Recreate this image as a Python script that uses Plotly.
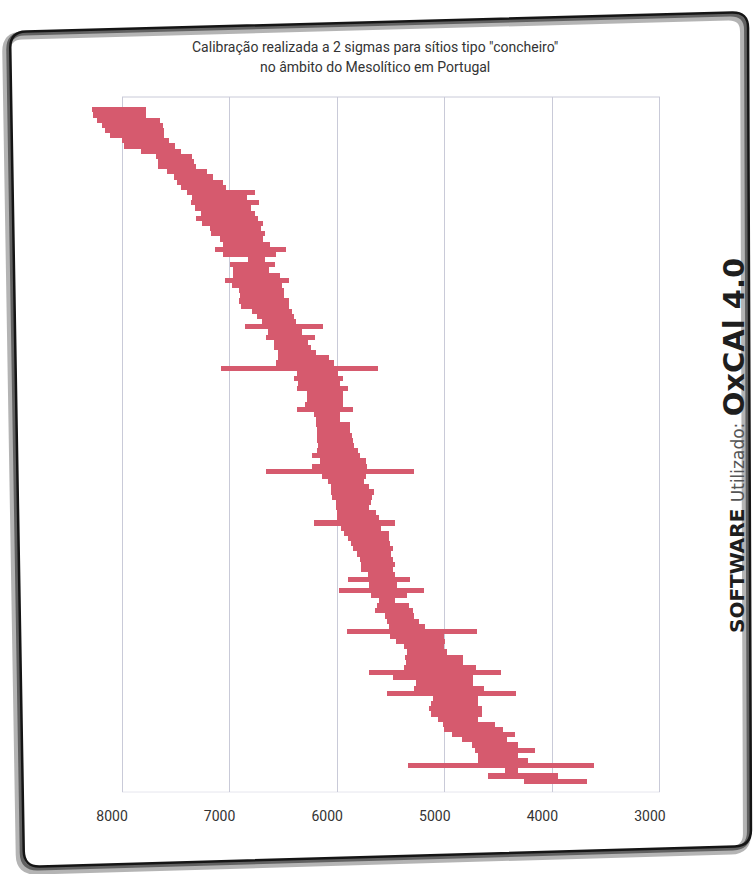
import plotly.graph_objects as go

# Calibrated 2-sigma ranges (cal BP) for each shell-midden date:
# older bound and younger bound, ordered from oldest to youngest
inicio = [8280, 8270, 8230, 8190, 8160, 8110, 8000, 7980, 7820, 7680,
          7670, 7670, 7580, 7520, 7490, 7450, 7400, 7350, 7360, 7320,
          7270, 7310, 7260, 7180, 7170, 7090, 7060, 7140, 7060, 6830,
          7000, 6970, 6970, 7040, 6980, 6910, 6900, 6910, 6890, 6790,
          6750, 6700, 6860, 6640, 6660, 6590, 6590, 6550, 6550, 6570,
          7080, 6370, 6400, 6360, 6370, 6280, 6280, 6300, 6370, 6220,
          6200, 6200, 6190, 6190, 6190, 6180, 6190, 6230, 6160, 6230,
          6660, 6140, 6090, 6060, 6060, 6050, 6010, 6010, 6000, 6000,
          6220, 5960, 5940, 5900, 5870, 5850, 5820, 5790, 5780, 5780,
          5710, 5900, 5700, 5980, 5690, 5610, 5630, 5650, 5560, 5540,
          5520, 5910, 5510, 5450, 5380, 5350, 5370, 5360, 5380, 5700,
          5480, 5270, 5290, 5540, 5110, 5130, 5150, 5130, 5060, 5020,
          5010, 4930, 4840, 4750, 4720, 4690, 4690, 5340, 4440, 4600, 4260]
fim = [7780, 7780, 7650, 7620, 7610, 7610, 7560, 7510, 7450, 7350,
       7330, 7310, 7210, 7150, 7060, 7030, 6760, 6840, 6730, 6800,
       6760, 6740, 6690, 6710, 6670, 6690, 6620, 6480, 6570, 6670,
       6580, 6630, 6530, 6450, 6510, 6490, 6490, 6450, 6450, 6420,
       6400, 6380, 6130, 6330, 6210, 6270, 6240, 6200, 6080, 6030,
       5620, 5990, 5950, 5970, 5900, 5950, 5950, 5950, 5850, 5970,
       5970, 5880, 5880, 5860, 5850, 5840, 5810, 5790, 5730, 5720,
       5290, 5730, 5750, 5700, 5660, 5680, 5690, 5700, 5640, 5610,
       5460, 5590, 5520, 5520, 5510, 5480, 5500, 5480, 5460, 5480,
       5460, 5320, 5440, 5190, 5350, 5460, 5330, 5300, 5290, 5240,
       5180, 4700, 5010, 5000, 5010, 4980, 4830, 4830, 4710, 4480,
       4740, 4740, 4640, 4340, 4690, 4690, 4650, 4650, 4690, 4530,
       4460, 4350, 4420, 4320, 4160, 4320, 4230, 3610, 4320, 3950, 3680]
amostras = [f"Data {i + 1}" for i in range(len(inicio))]

tick_vals = [8000, 7000, 6000, 5000, 4000, 3000]
tick_text = ["8000", "7000", "6000", "5000", "4000", "3000"]

titulo_1 = 'Calibração realizada a 2 sigmas para sítios tipo "concheiro"'
titulo_2 = "no âmbito do Mesolítico em Portugal"

W, H = 755, 874
ML, MR, MT, MB = 85, 93, 97, 82
PW, PH = W - ML - MR, H - MT - MB


def to_paper(px, py):
    return (px - ML) / PW, 1 - (py - MT) / PH


def rounded_path(corners, r, dx=0.0, dy=0.0):
    """Closed path with rounded corners, corners given in page pixels."""
    pts = [(x + dx, y + dy) for x, y in corners]
    n = len(pts)
    segs = []
    for i in range(n):
        p0, p1, p2 = pts[i - 1], pts[i], pts[(i + 1) % n]

        def toward(a, b):
            vx, vy = b[0] - a[0], b[1] - a[1]
            d = (vx ** 2 + vy ** 2) ** 0.5
            return a[0] + vx / d * r, a[1] + vy / d * r

        a = toward(p1, p0)
        b = toward(p1, p2)
        ax, ay = to_paper(*a)
        cx, cy = to_paper(*p1)
        bx, by = to_paper(*b)
        segs.append((ax, ay, cx, cy, bx, by))
    s = f"M {segs[0][0]:.5f},{segs[0][1]:.5f} "
    for k, (ax, ay, cx, cy, bx, by) in enumerate(segs):
        if k > 0:
            s += f"L {ax:.5f},{ay:.5f} "
        s += f"Q {cx:.5f},{cy:.5f} {bx:.5f},{by:.5f} "
    return s + "Z"


frame = [(10, 32), (748, 12), (751, 846), (24, 867)]

fig = go.Figure(
    go.Bar(
        y=amostras,
        x=[a - b for a, b in zip(inicio, fim)],
        base=fim,
        orientation="h",
        marker=dict(color="#D65A6E", line=dict(width=0)),
        hovertemplate="%{base} – %{x}<extra></extra>",
    )
)

n = len(amostras)
grid_col = "#c9cad8"
txt_font = "Roboto, sans-serif"

shapes = [
    # drop shadow and frame of the panel
    dict(type="path", xref="paper", yref="paper", layer="above",
         path=rounded_path(frame, 16, -4, 4),
         line=dict(color="rgba(40,40,40,0.35)", width=8)),
    dict(type="path", xref="paper", yref="paper", layer="above",
         path=rounded_path(frame, 16, -2, 2),
         line=dict(color="rgba(30,30,30,0.55)", width=4)),
    dict(type="path", xref="paper", yref="paper", layer="above",
         path=rounded_path(frame, 16),
         line=dict(color="#151515", width=2.5)),
    # plot area top and bottom edges
    dict(type="line", xref="x", yref="paper", x0=8000, x1=3000, y0=1, y1=1,
         line=dict(color=grid_col, width=1), layer="below"),
    dict(type="line", xref="x", yref="paper", x0=8000, x1=3000, y0=0, y1=0,
         line=dict(color="#e6e6ee", width=1), layer="below"),
]

tx, ty1 = to_paper(375, 47)
_, ty2 = to_paper(375, 67)
sx, sy = to_paper(734, 446)

annotations = [
    dict(text=titulo_1, x=tx, y=ty1, xref="paper", yref="paper",
         showarrow=False, xanchor="center", yanchor="middle",
         font=dict(family=txt_font, size=14, color="#333333")),
    dict(text=titulo_2, x=tx, y=ty2, xref="paper", yref="paper",
         showarrow=False, xanchor="center", yanchor="middle",
         font=dict(family=txt_font, size=14, color="#333333")),
    dict(text=("<b>SOFTWARE</b> <span style='color:#555555;font-size:17px'>"
               "Utilizado:</span> "
               "<b><span style='font-size:29px'>OxCAl 4.0</span></b>"),
         x=sx, y=sy, xref="paper", yref="paper", textangle=-90,
         showarrow=False, xanchor="center", yanchor="middle",
         font=dict(family="DejaVu Sans, sans-serif", size=20,
                   color="#1e1e1e")),
]

fig.update_layout(
    width=W, height=H,
    margin=dict(l=ML, r=MR, t=MT, b=MB),
    paper_bgcolor="white", plot_bgcolor="white",
    showlegend=False, bargap=0.0,
    shapes=shapes, annotations=annotations,
    xaxis=dict(
        range=[8344, 2981], tickvals=tick_vals, ticktext=tick_text,
        showgrid=True, gridcolor=grid_col, gridwidth=1,
        zeroline=False, showline=False, ticks="",
        ticklabelstandoff=14, ticklabelshift=10,
        tickfont=dict(family=txt_font, size=14, color="#333333"),
    ),
    yaxis=dict(
        type="category", range=[n - 1 + 2.1, -2.5],
        showticklabels=False, showgrid=False, zeroline=False, showline=False,
    ),
)

fig.write_html("out.html")
